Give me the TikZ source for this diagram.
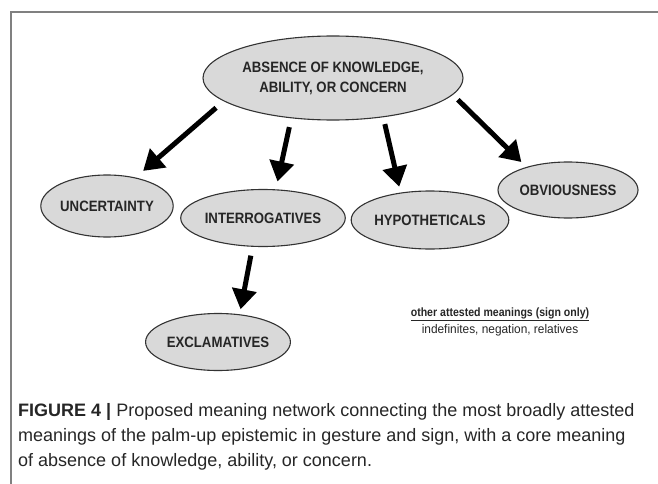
\documentclass[tikz,border=0pt]{standalone}
\usepackage{fontspec}
\setmainfont{Liberation Sans}
\newfontfamily\labelfont[FakeStretch=0.88]{Liberation Sans}
\newfontfamily\notefont[FakeStretch=0.95]{Liberation Sans}
\usetikzlibrary{shapes.geometric,arrows.meta}
\definecolor{ovalgray}{HTML}{D9D9D9}
\definecolor{framegray}{HTML}{808080}
\definecolor{inkgray}{HTML}{262626}

\begin{document}
\begin{tikzpicture}[x=1pt,y=-1pt,
	meaning/.style={ellipse,draw=black!80,line width=1.1pt,fill=ovalgray,inner sep=0pt,text=inkgray,align=center,font=\labelfont\bfseries\fontsize{15}{20}\selectfont},
	arr/.style={line width=5pt,-{Triangle[length=20pt,width=24pt]}}]
		\useasboundingbox (0,0) rectangle (658,484);
		
		%frame
		\draw[line width=1.5pt,color=framegray] (11,484) -- (11,12) -- (658,12);
		%core meaning
		\node[meaning,minimum width=260pt,minimum height=84pt](core) at (333,78) {ABSENCE OF KNOWLEDGE,\\ABILITY, OR CONCERN};
		%meanings
		\node[meaning,minimum width=130pt,minimum height=62pt](uncert) at (107,206) {UNCERTAINTY};
		\node[meaning,minimum width=154pt,minimum height=57pt](interr) at (263,218) {INTERROGATIVES};
		\node[meaning,minimum width=150pt,minimum height=58pt](hypoth) at (430,220) {HYPOTHETICALS};
		\node[meaning,minimum width=140pt,minimum height=56pt](obvious) at (568,190) {OBVIOUSNESS};
		\node[meaning,minimum width=140pt,minimum height=57pt](exclam) at (218,342) {EXCLAMATIVES};
		%arrows
		\draw[arr,shorten <=10pt,shorten >=10pt] (core.192) -- (uncert.45);
		\draw[arr,shorten <=9pt,shorten >=8pt] (core.224) -- (interr.66);
		\draw[arr,shorten <=7pt,shorten >=6pt] (core.322) -- (hypoth.137);
		\draw[arr,shorten <=7pt,shorten >=7pt] (core.352) -- (obvious.151);
		\draw[arr,shorten <=9pt,shorten >=5pt] (interr.250) -- (exclam.52);
		%labels
		\node[text=inkgray,align=center,font=\notefont\fontsize{12.5}{17}\selectfont](other) at (500,322) {{\labelfont\bfseries\fontsize{12}{17}\selectfont\underline{other attested meanings (sign only)}}\\indefinites, negation, relatives};
		\node[anchor=north west,inner sep=0pt,text=inkgray,align=left,font=\fontsize{18}{25}\selectfont](caption) at (18,403) {\textbf{FIGURE 4 |} Proposed meaning network connecting the most broadly attested\\meanings of the palm-up epistemic in gesture and sign, with a core meaning\\of absence of knowledge, ability, or concern.};
		\end{tikzpicture}
\end{document}
